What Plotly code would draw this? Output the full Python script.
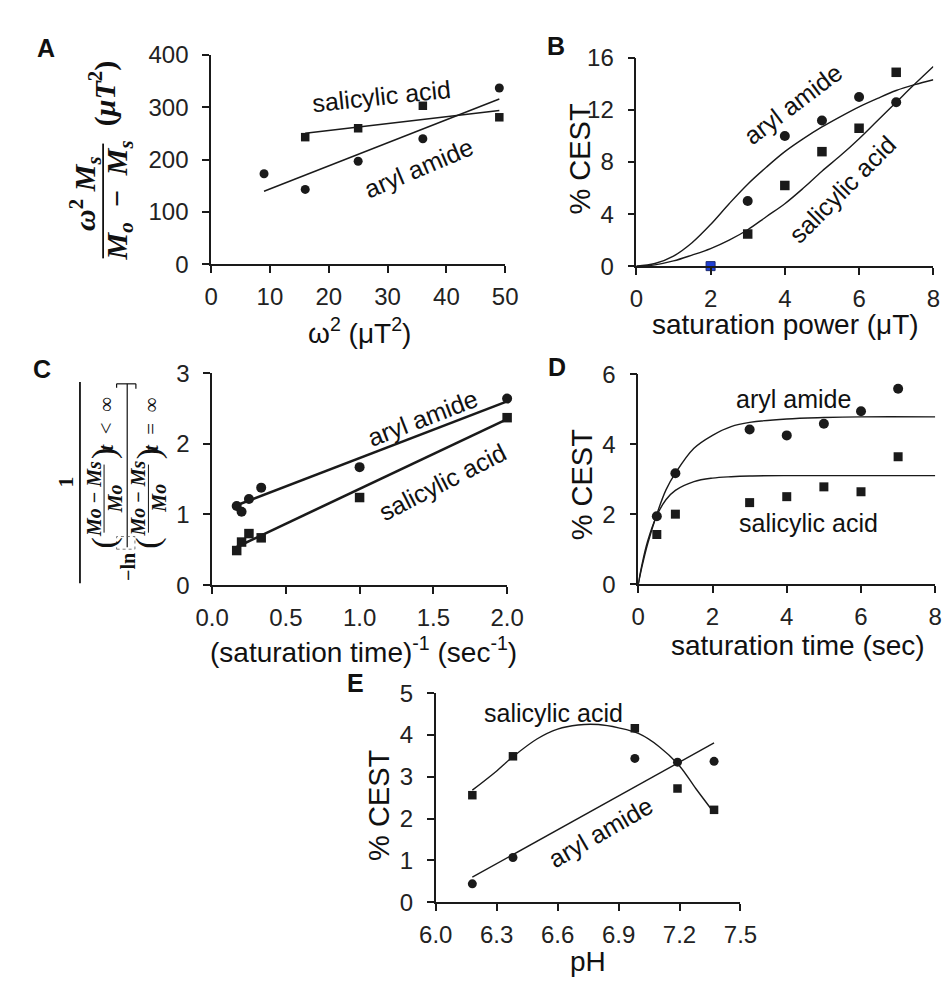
import plotly.graph_objects as go

W, H = 951, 988

def px(x):
    return x / W

def py(y):
    return 1 - y / H

# ---------------- DATA ----------------
# Panel A
a_aryl_x = [9, 16, 25, 36, 49]
a_aryl_y = [173, 143, 197, 240, 337]
a_sal_x = [16, 25, 36, 49]
a_sal_y = [243, 260, 303, 281]
a_aryl_fit_x = [9, 49]
a_aryl_fit_y = [139.5, 316]
a_sal_fit_x = [16, 49]
a_sal_fit_y = [250.5, 294]

# Panel B
b_aryl_x = [3, 4, 5, 6, 7]
b_aryl_y = [5.0, 10.0, 11.2, 13.0, 12.6]
b_sal_x = [3, 4, 5, 6, 7]
b_sal_y = [2.47, 6.2, 8.8, 10.6, 14.9]
b_blue_x = [2]
b_blue_y = [0]
b_curve_x = [0, 0.5, 1, 1.5, 2, 2.5, 3, 3.5, 4, 4.5, 5, 5.5, 6, 6.5, 7, 7.5, 8]
b_aryl_curve = [0, 0.2, 0.77, 1.8, 3.2, 4.8, 6.3, 7.6, 8.8, 9.8, 10.7, 11.5, 12.25, 12.9, 13.5, 13.95, 14.33]
b_sal_curve = [0, 0.1, 0.4, 0.85, 1.35, 2.0, 2.8, 3.8, 4.8, 6.0, 7.3, 8.5, 9.8, 11.2, 12.6, 14.0, 15.35]

# Panel C
c_x = [0.167, 0.2, 0.25, 0.333, 1.0, 2.0]
c_aryl_y = [1.12, 1.04, 1.22, 1.38, 1.67, 2.64]
c_sal_y = [0.49, 0.61, 0.73, 0.67, 1.24, 2.37]
c_fit_x = [0.167, 2.0]
c_aryl_fit = [1.13, 2.60]
c_sal_fit = [0.54, 2.35]

# Panel D
d_x = [0.5, 1, 3, 4, 5, 6, 7]
d_aryl_y = [1.94, 3.17, 4.42, 4.25, 4.58, 4.94, 5.58]
d_sal_y = [1.42, 2.0, 2.33, 2.5, 2.78, 2.64, 3.64]
d_curve_x = [0, 0.1, 0.25, 0.5, 0.75, 1, 1.5, 2, 2.5, 3, 4, 5, 6, 8]
d_aryl_curve = [0, 0.5, 1.14, 2.0, 2.7, 3.17, 3.88, 4.25, 4.5, 4.62, 4.72, 4.76, 4.78, 4.78]
d_sal_curve = [0, 0.56, 1.22, 1.96, 2.42, 2.68, 2.93, 3.03, 3.07, 3.09, 3.1, 3.1, 3.1, 3.1]

# Panel E
e_x = [6.18, 6.38, 6.98, 7.19, 7.37]
e_sal_y = [2.56, 3.49, 4.16, 2.72, 2.21]
e_aryl_y = [0.44, 1.07, 3.44, 3.35, 3.37]
e_aryl_fit_x = [6.18, 7.37]
e_aryl_fit_y = [0.60, 3.81]
e_curve_x = [6.18, 6.30, 6.38, 6.50, 6.60, 6.70, 6.80, 6.90, 7.00, 7.10, 7.20, 7.28, 7.37]
e_sal_curve = [2.68, 3.14, 3.48, 3.91, 4.14, 4.24, 4.25, 4.17, 4.03, 3.72, 3.26, 2.72, 2.14]

# ---------------- STYLE ----------------
INK = '#1a1a1a'
SANS = 'Liberation Sans, Arial, sans-serif'
SERIF = 'Liberation Serif, Times New Roman, serif'
NB = '\u00a0'

fig = go.Figure()

def scat(x, y, ax, sym, size=9, color=INK, line=None):
    fig.add_trace(go.Scatter(x=x, y=y, mode='markers', xaxis='x' + ax, yaxis='y' + ax,
                             marker=dict(symbol=sym, size=size, color=color,
                                         line=line or dict(width=0)),
                             cliponaxis=False, showlegend=False, hoverinfo='skip'))

def curve(x, y, ax, w=1.4, smooth=False):
    fig.add_trace(go.Scatter(x=x, y=y, mode='lines', xaxis='x' + ax, yaxis='y' + ax,
                             line=dict(color=INK, width=w, shape='spline' if smooth else 'linear',
                                       smoothing=1.0),
                             cliponaxis=False, showlegend=False, hoverinfo='skip'))

# A
curve(a_aryl_fit_x, a_aryl_fit_y, '')
curve(a_sal_fit_x, a_sal_fit_y, '')
scat(a_aryl_x, a_aryl_y, '', 'circle')
scat(a_sal_x, a_sal_y, '', 'square', 8.5)
# B
curve(b_curve_x, b_aryl_curve, '2', smooth=True)
curve(b_curve_x, b_sal_curve, '2', smooth=True)
scat(b_aryl_x, b_aryl_y, '2', 'circle', 10)
scat(b_sal_x, b_sal_y, '2', 'square', 9.5)
scat(b_blue_x, b_blue_y, '2', 'square', 9, '#1f3fd6', dict(width=1, color='#1a2a70'))
# C
curve(c_fit_x, c_aryl_fit, '3', w=2.6)
curve(c_fit_x, c_sal_fit, '3', w=2.6)
scat(c_x, c_aryl_y, '3', 'circle', 10)
scat(c_x, c_sal_y, '3', 'square', 9.5)
# D
curve(d_curve_x, d_aryl_curve, '4', smooth=True)
curve(d_curve_x, d_sal_curve, '4', smooth=True)
scat(d_x, d_aryl_y, '4', 'circle', 10)
scat(d_x, d_sal_y, '4', 'square', 9)
# E
curve(e_aryl_fit_x, e_aryl_fit_y, '5')
curve(e_curve_x, e_sal_curve, '5', smooth=True)
scat(e_x, e_aryl_y, '5', 'circle', 9)
scat(e_x, e_sal_y, '5', 'square', 8.5)


def axis(dom, rng, dtick, anchor, tick0=0, fmt=None, standoff=10):
    d = dict(domain=dom, range=rng, dtick=dtick, tick0=tick0, anchor=anchor,
             showline=True, linecolor=INK, linewidth=1.5, ticks='outside', ticklen=7,
             tickcolor=INK, tickwidth=1.5, showgrid=False, zeroline=False,
             tickfont=dict(family=SANS, size=24, color='#222'), fixedrange=True,
             ticklabelstandoff=standoff)
    if fmt:
        d['tickformat'] = fmt
    return d

# pixel boxes: (left, right, top, bottom)
boxes = {
    '': (193, 498, 34, 249),
    '2': (634, 942, 37, 251),
    '3': (194, 500, 361, 579),
    '4': (636, 944, 362, 578),
    '5': (426, 742, 690, 905),
}
xr = {'': ([0, 50], 10, 0, None), '2': ([0, 8], 2, 0, None), '3': ([0, 2], 0.5, 0, '.1f'),
      '4': ([0, 8], 2, 0, None), '5': ([6.0, 7.5], 0.3, 6.0, '.1f')}
yr = {'': ([0, 400], 100), '2': ([0, 16], 4), '3': ([0, 3], 1), '4': ([0, 6], 2), '5': ([0, 5], 1)}

layout = {}
for k, (l, r, t, b) in boxes.items():
    rng, dt, t0, fmt = xr[k]
    layout['xaxis' + k] = axis([px(l), px(r)], rng, dt, 'y' + k, t0, fmt, standoff=3)
    yrng, ydt = yr[k]
    layout['yaxis' + k] = axis([py(b), py(t)], yrng, ydt, 'x' + k, 0, None, standoff=9)

fig.update_layout(**layout)

ann = []

def txt(x, y, s, size=21, angle=0, family=SANS, bold=False):
    if bold:
        s = '<b>' + s + '</b>'
    ann.append(dict(x=px(x), y=py(y), xref='paper', yref='paper', text=s, showarrow=False,
                    textangle=angle, font=dict(family=family, size=size, color='#111'),
                    xanchor='center', yanchor='middle'))

# panel letters
txt(22, 27, 'A', 25, bold=True)
txt(551, 25, 'B', 25, bold=True)
txt(18, 357, 'C', 25, bold=True)
txt(552, 355, 'D', 25, bold=True)
txt(343, 680, 'E', 25, bold=True)

# curve labels
LBL = 25
txt(370, 76, 'salicylic acid', LBL, -6)
txt(408, 150, 'aryl amide', LBL, -23)
txt(796, 84, 'aryl amide', LBL, -37)
txt(848, 172, 'salicylic acid', LBL, -45)
txt(412, 407, 'aryl amide', LBL, -21)
txt(433, 473, 'salicylic acid', LBL, -27)
txt(797, 388, 'aryl amide', LBL)
txt(813, 515, 'salicylic acid', LBL)
txt(548, 710, 'salicylic acid', LBL)
txt(597, 833, 'aryl amide', LBL, -30)

# axis titles
TT = 28
txt(347, 318, 'ω<sup>2</sup> (μT<sup>2</sup>)', TT)
txt(789, 311, 'saturation power (μT)', TT)
txt(351, 646, '(saturation time)<sup>-1</sup> (sec<sup>-1</sup>)', TT)
txt(802, 641, 'saturation time (sec)', TT)
txt(584, 966, 'pH', TT)
txt(576, 141, '% CEST', 29, -90)
txt(578, 476, '% CEST', 29, -90)
txt(367, 805, '% CEST', 29, -90)

# A y-axis title (formula)
txt(62, 176, '<b><i>ω</i><sup>2</sup>' + NB + '<i>M</i><sub><i>s</i></sub></b>', 30, -90, SERIF)
txt(97, 184, '<b><i>M</i><sub><i>o</i></sub>' + NB * 2 + '−' + NB * 2 + '<i>M</i><sub><i>s</i></sub></b>',
    30, -90, SERIF)
txt(80, 73, '<b>(<i>μT</i><sup>2</sup>)</b>', 30, -90, SERIF)

# C y-axis title (formula)
txt(42, 473, '<b>1</b>', 22, -90, SERIF)
txt(106, 560, '<b>−ln</b>', 20, -90, SERIF)
frac_num = '<b><i>Mo</i>' + NB + '−' + NB + '<i>Ms</i></b>'
for cx in (71, 117):
    txt(cx, 490, frac_num, 20, -90, SERIF)
for cx in (93, 139):
    txt(cx, 490, '<b><i>Mo</i></b>', 20, -90, SERIF)
for cx in (82, 128):
    txt(cx, 536, '(', 34, -90, SERIF)
    txt(cx, 444, ')', 34, -90, SERIF)
txt(84, 413, '<b><i>t</i></b>' + NB * 2 + '<' + NB * 2 + '∞', 21, -90, SERIF)
txt(130, 413, '<b><i>t</i></b>' + NB * 2 + '=' + NB * 2 + '∞', 21, -90, SERIF)

fig.update_layout(annotations=ann)

shapes = []

def seg(x0, y0, x1, y1, w=1.5, dash=None):
    shapes.append(dict(type='line', xref='paper', yref='paper', x0=px(x0), y0=py(y0),
                       x1=px(x1), y1=py(y1), line=dict(color='#111', width=w, dash=dash)))

seg(81, 125, 81, 243, 1.8)      # A fraction bar
seg(57, 370, 57, 577, 1.8)      # C main bar
seg(106, 372, 106, 540, 1.2)    # C inner bar
seg(82, 455, 82, 525, 1.0)
seg(128, 455, 128, 525, 1.0)
seg(95, 372, 115, 372, 1.2)     # bracket
seg(95, 372, 95, 376, 1.2)
seg(115, 372, 115, 377, 1.2)
shapes.append(dict(type='rect', xref='paper', yref='paper', x0=px(95), x1=px(114),
                   y0=py(542), y1=py(529), line=dict(color='#555', width=0.8, dash='dot')))

fig.update_layout(shapes=shapes, width=W, height=H, margin=dict(l=0, r=0, t=0, b=0),
                  paper_bgcolor='white', plot_bgcolor='white', showlegend=False)

fig.write_html('out.html')
